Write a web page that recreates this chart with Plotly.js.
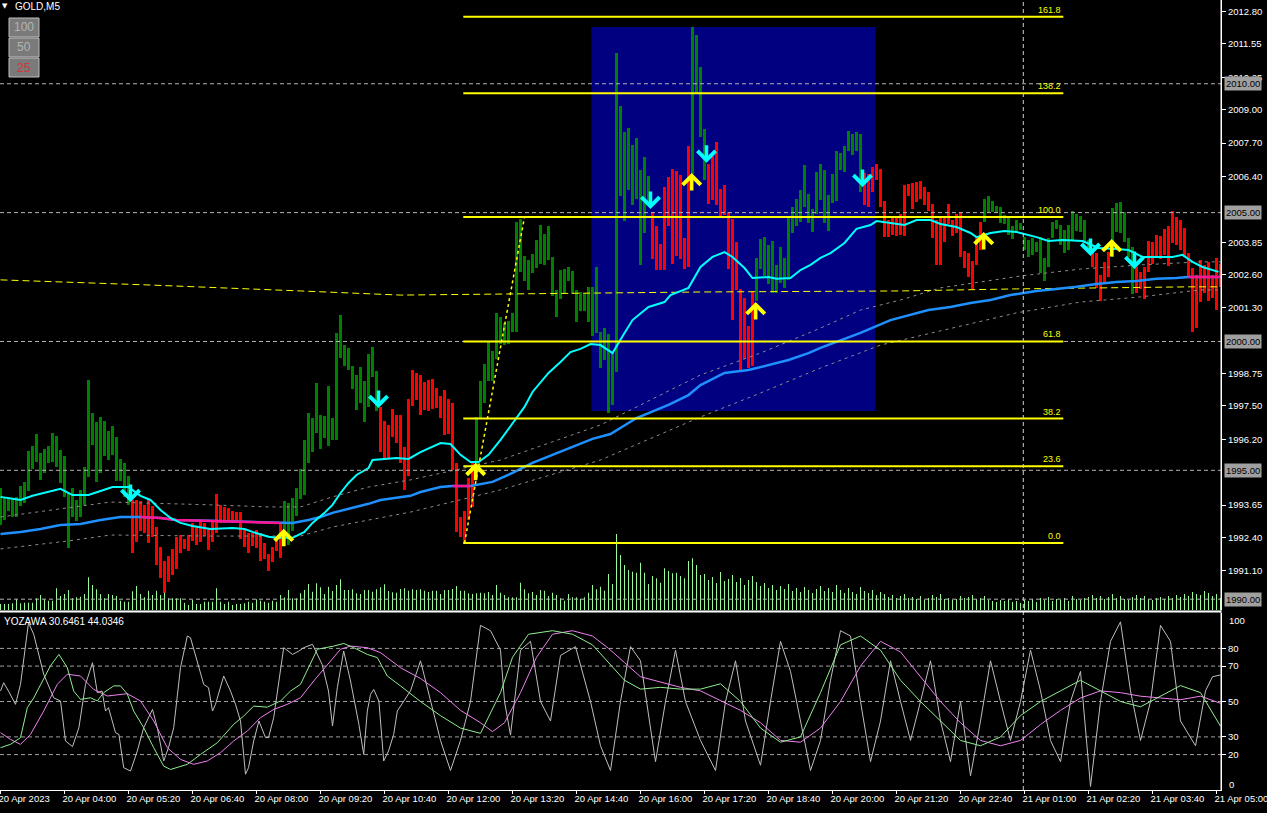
<!DOCTYPE html>
<html><head><meta charset="utf-8">
<script src="https://cdn.plot.ly/plotly-3.0.1.min.js"></script>
<style>html,body{margin:0;padding:0;background:#000;overflow:hidden}#chart{width:1267px;height:813px}</style>
</head><body><div id="chart"></div>
<script>
// ---------- DATA ----------
const timeLabels = ['20 Apr 2023','20 Apr 04:00','20 Apr 05:20','20 Apr 06:40','20 Apr 08:00','20 Apr 09:20','20 Apr 10:40','20 Apr 12:00','20 Apr 13:20','20 Apr 14:40','20 Apr 16:00','20 Apr 17:20','20 Apr 18:40','20 Apr 20:00','20 Apr 21:20','20 Apr 22:40','21 Apr 01:00','21 Apr 02:20','21 Apr 03:40','21 Apr 05:00'];
const labelEvery = 16;

const openP = [
1992.88,1993.07,1993.43,1993.19,1993.19,1993.62,1993.73,1994.20,1995.05,1995.32,
1994.63,1994.90,1995.29,1995.32,1995.13,1994.51,1993.97,1991.99,1993.19,1993.04,
1993.19,1993.66,1994.74,1995.98,1994.55,1994.90,1995.56,1995.40,1995.60,1994.59,
1994.59,1993.97,1993.66,1993.85,1993.85,1993.81,1993.66,1993.85,1993.62,1992.80,
1992.03,1991.48,1991.68,1991.95,1992.42,1992.49,1992.34,1992.49,1992.96,1992.80,
1993.00,1992.96,1992.76,1993.00,1994.08,1993.66,1993.58,1993.54,1993.43,1993.39,
1993.39,1992.72,1992.57,1992.57,1992.69,1992.57,1992.18,1991.75,1992.03,1992.34,
1992.96,1992.07,1992.10,1992.65,1993.23,1993.89,1994.04,1995.29,1995.71,1996.45,
1995.83,1996.25,1995.95,1996.18,1996.18,1999.36,1999.05,1998.89,1998.16,1997.34,
1997.61,1996.88,1997.46,1998.62,1997.30,1997.46,1996.92,1996.76,1997.38,1997.15,
1997.15,1995.91,1997.77,1998.89,1998.78,1998.70,1998.43,1998.51,1998.55,1998.20,
1997.89,1998.12,1997.77,1997.61,1995.29,1993.19,1993.43,1994.70,1995.29,1994.74,
1997.03,1997.61,1998.47,1998.47,1999.32,1999.90,1999.86,1999.90,2000.37,2000.37,
2002.70,2002.35,2002.00,2002.66,2002.85,2003.01,2002.97,2003.16,2001.77,2000.95,
2001.65,2001.88,2002.35,2001.84,2000.76,2001.18,2001.18,2000.76,2000.21,2000.33,
1998.97,1999.28,1997.23,1997.54,1998.82,2005.64,2004.68,2005.88,2005.30,2005.53,
2002.97,2004.21,2005.33,2005.02,2004.48,2003.78,2005.99,2006.38,2006.69,2006.61,
2006.46,2004.02,2007.59,2006.50,2009.64,2007.93,2006.27,2006.89,2007.27,2007.74,
2005.92,2006.07,2005.02,2004.75,2003.86,2002.04,2001.69,2000.60,2001.96,2001.57,
2002.81,2002.54,2002.23,2001.88,2001.88,2002.27,2002.08,2002.39,2004.21,2004.48,
2004.64,2005.22,2004.60,2004.25,2004.95,2005.49,2004.60,2004.29,2005.37,2005.45,
2006.65,2006.58,2007.39,2007.24,2007.39,2005.80,2006.54,2006.50,2006.77,2006.89,
2006.69,2005.45,2004.71,2004.87,2004.79,2004.95,2006.07,2006.11,2006.15,2006.19,
2006.23,2005.99,2005.80,2005.33,2004.71,2004.79,2004.83,2005.33,2004.71,2004.95,
2005.02,2003.51,2003.43,2003.12,2004.09,2004.64,2004.64,2004.99,2005.02,2004.99,
2004.60,2004.56,2004.13,2003.98,2004.29,2004.33,2003.55,2003.28,2003.36,2003.47,
2002.66,2002.35,2002.89,2004.02,2004.37,2003.74,2003.43,2003.55,2003.94,2004.29,
2004.25,2003.82,2003.63,2003.51,2003.43,2002.58,2003.08,2003.47,2003.28,2004.25,
2004.21,2003.86,2003.28,2001.84,2002.89,2002.70,2002.89,2003.90,2003.86,2004.13,
2004.09,2004.36,2004.48,2005.06,2004.83,2004.71,2004.40,2003.43,2002.85,2002.58,
2003.16,2002.97,2003.08,2002.58,2003.24,2003.01];
const closeP = [
1994.32,1993.93,1993.97,1993.89,1993.97,1994.39,1994.55,1995.75,1995.95,1996.41,
1995.67,1995.83,1995.95,1996.45,1996.33,1995.79,1995.56,1994.12,1994.32,1993.85,
1994.24,1995.13,1998.51,1997.23,1996.88,1997.07,1996.92,1996.53,1996.72,1996.29,
1995.44,1995.29,1994.78,1991.79,1992.22,1992.65,1992.57,1992.18,1992.42,1991.33,
1990.82,1990.24,1990.67,1990.94,1991.17,1991.79,1991.95,1991.87,1992.26,1992.10,
1992.22,1992.46,1991.91,1992.22,1992.57,1992.96,1992.96,1993.00,1992.96,1992.96,
1992.34,1992.03,1991.79,1992.07,1991.99,1991.48,1991.56,1991.09,1991.44,1991.87,
1991.60,1993.81,1993.73,1993.93,1994.32,1995.05,1996.18,1997.23,1997.03,1998.39,
1997.15,1997.11,1998.27,1997.03,2000.33,2001.03,1999.86,1999.75,1999.05,1998.70,
1999.01,1998.47,1999.52,1999.79,1998.86,1995.71,1995.44,1995.44,1996.29,1996.06,
1995.29,1994.24,1994.78,1997.50,1997.73,1997.15,1997.34,1997.30,1997.38,1997.42,
1997.03,1996.37,1996.41,1995.01,1992.61,1992.42,1992.14,1993.07,1993.58,1997.07,
1998.47,1999.13,2000.02,1999.63,2001.11,2000.95,2000.72,2000.80,2001.11,2004.64,
2004.75,2003.32,2003.16,2003.40,2003.94,2004.52,2004.17,2004.48,2003.28,2002.00,
2002.77,2002.81,2002.89,2002.74,2002.00,2001.92,2001.88,2002.12,2002.12,2002.89,
2000.37,2000.52,2000.29,1999.55,2011.19,2009.14,2008.13,2008.28,2007.62,2007.89,
2006.65,2007.16,2006.42,2003.20,2002.77,2002.77,2002.77,2004.48,2003.01,2003.32,
2003.20,2002.81,2002.89,2012.20,2011.89,2010.65,2008.24,2005.33,2005.49,2005.30,
2004.83,2004.91,2002.81,2000.83,2002.00,1998.89,1999.32,1998.97,1999.05,2003.24,
2003.98,2004.05,2003.74,2003.90,2002.97,2003.67,2003.24,2004.87,2005.22,2005.53,
2005.88,2006.85,2005.72,2005.14,2006.58,2006.89,2006.65,2005.68,2006.50,2007.39,
2007.31,2007.59,2008.17,2008.05,2008.13,2008.05,2005.30,2005.22,2005.80,2006.27,
2005.22,2004.05,2004.05,2004.13,2004.09,2004.13,2004.09,2005.64,2005.14,2005.41,
2005.53,2005.30,2005.06,2004.02,2002.97,2002.97,2003.86,2004.56,2004.09,2004.21,
2003.28,2002.85,2002.50,2002.04,2002.97,2003.55,2005.53,2005.64,2005.45,2005.26,
2005.22,2004.91,2004.87,2004.48,2004.71,2004.60,2004.05,2003.94,2004.02,2003.86,
2004.05,2003.24,2004.02,2004.64,2004.71,2004.52,2004.33,2004.52,2005.06,2004.95,
2004.87,2004.71,2003.94,2002.89,2002.08,2001.57,2002.23,2002.50,2005.18,2005.37,
2005.41,2005.02,2004.02,2003.67,2001.88,2002.04,2001.65,2002.70,2003.01,2003.24,
2003.20,2003.36,2002.93,2003.82,2003.74,2003.55,2003.28,2002.50,2000.37,2000.52,
2001.53,2001.88,2001.57,2001.69,2001.22,2002.12];

const volume = [
24,24,24,27,43,27,29,29,29,47, 60,43,37,37,87,56,64,80,47,51,
53,64,131,100,83,64,47,64,60,56, 37,33,33,75,96,64,51,77,60,77,
60,69,47,47,47,47,29,20,40,24, 24,33,33,33,87,33,24,33,20,24,
24,27,33,29,43,37,33,29,37,33, 60,50,80,47,47,67,80,104,73,107,
91,64,93,76,100,123,80,80,83,67, 64,80,80,73,83,91,103,76,71,69,
84,87,77,83,80,83,77,72,77,77, 64,80,80,84,96,77,77,67,64,67,
69,67,72,60,100,69,60,51,51,51, 109,83,67,72,60,80,77,56,69,60,
47,37,64,51,51,45,51,69,100,83, 93,77,144,104,304,220,180,160,153,149,
189,149,104,136,127,109,167,156,147,149, 136,127,196,207,180,140,144,120,132,108,
152,116,124,140,112,128,100,120,136,112, 96,108,88,100,80,96,84,104,76,88,
72,92,80,68,84,96,76,88,72,100, 80,68,88,72,64,92,76,68,80,60,
72,64,52,60,48,56,64,48,52,44, 56,40,48,60,52,64,44,48,40,44,
56,48,52,60,44,48,56,40,36,32, 40,36,44,32,36,28,40,36,44,32,
48,40,52,36,44,40,48,36,56,44, 40,48,52,60,48,56,44,52,64,48,
56,44,40,52,60,48,56,44,40,48, 52,44,56,48,60,52,64,56,72,64,
60,76,68,56,64,48];

// fast MA (cyan)
const maFastIdx = [0,5,8,12.5,15,18,22,25,28,32,35,37.5,40,42.5,45,48,52.5,58,61,63,67,69,73,76,78,81,83,85,87,89,92,93,97,99,102,105,110,112.5,115,117.5,119.5,122,125,128,131,133,137,140,142.5,145,147.5,150,153,156,158,162,166,167.5,172,175,178,181,183,186,188,192,194,197.5,200,202.5,205,207.5,211,214,217.5,219,222.5,226,229,232.5,235,239,242.5,244,247.5,251,254,259,262,265.5,270.5,274.5,279,282,285.5,289,293,295.5,298,300.5,304.5];
const maFastVal = [1993.97,1993.85,1994.01,1994.20,1994.28,1994.04,1994.04,1994.20,1994.35,1994.35,1994.01,1993.85,1993.46,1993.15,1992.96,1992.84,1992.72,1992.76,1992.72,1992.61,1992.42,1992.38,1992.38,1992.61,1992.96,1993.35,1993.66,1994.12,1994.51,1994.82,1995.09,1995.40,1995.44,1995.48,1995.44,1995.71,1996.06,1996.02,1995.60,1995.32,1995.32,1995.60,1996.18,1996.84,1997.46,1998.04,1998.78,1999.20,1999.59,1999.71,1999.90,1999.86,1999.55,2000.33,2000.83,2001.34,2001.53,2001.80,2002.08,2002.89,2003.28,2003.47,2003.28,2002.85,2002.46,2002.50,2002.43,2002.46,2002.77,2002.97,2003.24,2003.43,2003.82,2004.37,2004.52,2004.67,2004.60,2004.52,2004.71,2004.71,2004.56,2004.44,2004.21,2004.05,2004.21,2004.29,2004.25,2004.05,2003.90,2003.94,2003.90,2003.63,2003.59,2003.55,2003.28,2003.28,2003.28,2003.36,2003.09,2002.89,2002.70];

// slow MA (blue)
const maSlowIdx = [0,5,10,15,20,25,30,35,40,44,52.5,70,73,77,80,83,87,92,95,100,102.5,105,110,113,117.5,123,128,133,138,143,148,152.5,159,167,172,175,181,187,192,197,202,205,215,222.5,232,237.5,242.5,247.5,252.5,256,259,264,269,274,279,284,289,294,297,305];
const maSlowVal = [1992.53,1992.61,1992.72,1992.88,1992.92,1993.07,1993.19,1993.19,1993.15,1993.07,1993.04,1992.96,1992.96,1993.07,1993.19,1993.35,1993.50,1993.70,1993.85,1993.97,1994.01,1994.16,1994.35,1994.39,1994.39,1994.55,1994.90,1995.29,1995.60,1995.91,1996.22,1996.41,1997.03,1997.54,1997.92,1998.31,1998.78,1998.89,1999.09,1999.28,1999.55,1999.75,2000.33,2000.83,2001.22,2001.34,2001.49,2001.61,2001.80,2001.88,2001.96,2002.04,2002.12,2002.23,2002.31,2002.35,2002.43,2002.46,2002.50,2002.50];
const pinkRanges = [[35,72],[113,118],[296,305]];

// envelope bands (grey dotted)
const bandUpIdx = [0,15,27.5,52.5,67,75,83,92,102.5,125,150,175,190,205,215,225,235,255,270,285,300,305];
const bandUpVal = [1993.19,1993.50,1993.77,1993.66,1993.58,1993.58,1993.97,1994.35,1994.63,1995.40,1996.76,1998.70,1999.55,2000.52,2001.22,2001.61,2002.08,2002.54,2002.81,2002.97,2003.09,2003.09];
const bandLoIdx = [0,17,27.5,52.5,75,83,92,102.5,125,150,175,190,205,220,254,270,285,300,305];
const bandLoVal = [1991.95,1992.26,1992.49,1992.45,1992.45,1992.80,1993.07,1993.38,1994.24,1995.40,1997.07,1998.00,1998.97,1999.86,2001.11,2001.53,2001.73,2002.00,2002.00];

// long MA (yellow dashed)
const maLongIdx = [0,37.5,75,100,150,175,225,254,297.5,305];
const maLongVal = [2002.39,2002.19,2001.96,2001.80,2001.88,2001.92,2001.96,2002.04,2002.12,2002.12];

// zigzag leg + fibonacci
const zigIdx = [116,131];
const zigVal = [1992.18,2004.83];
const fibLabels = ['0.0','23.6','38.2','61.8','100.0','138.2','161.8'];
const fibPrices = [1992.18,1995.16,1997.01,2000.00,2004.83,2009.63,2012.60];
const fibStart = 115.7, fibEnd = 265.7;

// highlighted price lines
const priceLines = [2010.00,2005.00,2000.00,1995.00,1990.00];
const priceTicks = [2012.80,2011.55,2010.25,2009.00,2007.70,2006.40,2003.85,2002.60,2001.30,1998.75,1997.50,1996.20,1993.65,1992.40,1991.10];

// rectangle (bar index / price)
const boxIdx = [147.7,218.7];
const boxPrice = [1997.30,2012.20];
const daySepIdx = 255.7;

// signal arrows
const sellIdx = [32.5,94.5,162.5,176.5,215.5,272.5,283.5];
const sellPrice = [1993.77,1997.42,2005.14,2006.93,2005.99,2003.32,2002.81];
const buyIdx = [70.8,118.8,172.8,188.8,245.8,277.8];
const buyPrice = [1992.73,1995.29,2006.54,2001.53,2004.25,2003.98];

// oscillator (YOZAWA)
const oscLevels = [20,30,50,70,80];
const greyIdx = [0,0.8,2,3.75,5,7,8.3,10.8,13.3,15,16.25,18,19.6,21.25,23,24.2,25.4,26.25,27,28.75,29.6,30.8,32.5,34.2,35.8,38,39.2,40.8,42,43.3,45,46.7,47.5,49.2,50.8,52,53,53.75,55.8,57.5,58.75,60,61.25,62,63.3,64.6,66.25,67,68.3,70.8,73,74.6,75.8,78,80.4,82,83,84.2,85.8,87.5,89.6,90.8,91.7,92.5,93.3,94.6,95.8,97,98.3,99.2,102.5,105,107.5,110,112.5,115,117.5,120,122.5,125,126,127.5,130,132.5,135,137.5,140,143.75,147.5,150,152.5,155,157.5,160,163.75,166.25,168.75,171.25,175,178.75,181.25,183.75,186.25,190,192.5,195,197.5,200,202.5,205,207.5,210,212.5,215,217.5,220,222.5,225,227.5,230,232.5,235,237.5,240,242.5,245,247.5,250,252.5,255,257.5,260,262.5,265,267.5,270,272.5,275,277.5,280,282.5,285,287.5,290,292.5,295,298.75,301.25,303,305];
const greyVal = [55.9,60.6,55.9,48.4,59.7,94.5,88,65.4,52.1,50.3,27.7,24.5,35.2,59.7,71.9,55,55.9,44.6,46.5,32.4,31.4,12.6,10.7,22,35.2,45.5,35.2,16.4,23.9,35.2,69.1,87,86,71.9,59.7,57.8,44.6,48.4,64.4,55.9,48.4,39,8.9,12.6,27.7,39,29.6,29.6,40.9,80.4,76.6,78.5,80.4,82.3,71,55.9,36.2,57.8,78.5,61.6,37.1,20.1,44.6,54,56.8,50.3,16.4,22,31.4,44.6,56,73,50,28,11,28,50,93,90,79,50,31,79,84,50,39,76,81,50,25,11,50,81,73,16,50,79,50,28,11,50,73,39,14,50,84,67,39,11,28,62,90,87,50,16,39,73,50,28,50,73,39,16,50,8,39,73,50,28,50,79,56,28,16,50,67,2,50,84,95,56,28,50,93,84,39,25,56,64,65];
const greenIdx = [0,2.5,5,6.7,8.3,10,12.5,14.6,16.7,18.3,20,22.5,24.2,25.8,28.3,30,31.7,33.3,35.8,38.3,40.8,42.5,46.7,50,54.2,58.3,60.8,63.3,66.7,70,72.5,75,77.5,79.2,83.3,85.8,88.3,91.7,94.2,96.7,100,105,110,115,120,125,128,132,138,143,148,152,156,160,165,170,175,180,185,190,195,200,205,210,215,220,225,230,235,240,245,250,255,260,265,270,275,280,285,290,295,300,305];
const greenVal = [23.9,25.8,29.6,46.5,52,59.7,70.2,76.6,69.1,55.9,51.2,52.1,50.3,55,58.8,58.8,54.2,44.6,35.2,23.9,13.5,11.6,14.5,20.1,26.7,37.1,41.8,47.4,46.8,50.3,55.9,59.7,71.9,79.5,81.3,82.8,80.4,76.6,74.8,64.4,58.8,50,42,35,32,55,75,88,90,88,82,72,62,57,58,57,57,60,50,35,27,30,55,82,87,79,62,50,39,28,25,30,42,50,56,62,56,50,47,53,59,55,36];
const violetIdx = [0,2.5,5,7.5,10.8,14.2,16.7,20,23.3,26.7,31.7,35,38.3,41.7,45,48.3,51.7,55,58.3,61.7,65,68.3,71.7,75,78.3,81.7,85,87.5,91.7,95,98.3,100,105,110,115,120,123,126,130,134,138,143,148,152,156,160,170,175,185,190,195,200,205,210,215,220,225,230,235,240,245,250,255,260,265,270,275,280,285,290,295,300,305];
const violetVal = [32.4,28.6,25.8,31.4,44.6,59.7,65.4,64.4,56.8,53.1,54.4,50.3,39,23.9,17.3,14.5,16.4,21.1,27.7,33.3,40.9,45.5,48.4,52.1,61.6,71,79.5,81.3,80.4,77.6,71.9,69.1,63,55,45,38,33,38,55,75,88,90,87,80,72,64,58,56,45,38,28,27,35,50,70,84,78,64,50,38,28,25,28,37,45,52,56,55,53,52,51,53,49];

// ---------- BUILD ----------
const idx = openP.map((_, i) => i);
const barBase = openP.map((o, i) => Math.min(o, closeP[i]));
const barLen = openP.map((o, i) => Math.max(Math.abs(closeP[i] - o), 0.04));
const barCol = openP.map((o, i) => closeP[i] >= o ? '#008000' : '#FF0000');

const volX = [], volY = [];
volume.forEach((v, i) => { volX.push(i, i, null); volY.push(0, v, null); });

const pinkX = [], pinkY = [];
pinkRanges.forEach(r => {
  maSlowIdx.forEach((x, k) => { if (x >= r[0] && x <= r[1]) { pinkX.push(x); pinkY.push(maSlowVal[k]); } });
  pinkX.push(null); pinkY.push(null);
});

const FONT = 'Liberation Sans, Arial, sans-serif';
const traces = [
  {type:'scatter', x:volX, y:volY, xaxis:'x', yaxis:'y3', mode:'lines', line:{color:'#98FB98', width:1}, hoverinfo:'skip'},
  {type:'scatter', x:bandUpIdx, y:bandUpVal, mode:'lines', line:{color:'#8C8C8C', width:1, dash:'3px,4px'}, hoverinfo:'skip'},
  {type:'scatter', x:bandLoIdx, y:bandLoVal, mode:'lines', line:{color:'#8C8C8C', width:1, dash:'3px,4px'}, hoverinfo:'skip'},
  {type:'scatter', x:maLongIdx, y:maLongVal, mode:'lines', line:{color:'#FFFF00', width:1, dash:'7px,4px'}, hoverinfo:'skip'},
  {type:'bar', x:idx, base:barBase, y:barLen, width:0.75, marker:{color:barCol, line:{width:0}}, hoverinfo:'skip'},
  {type:'scatter', x:maSlowIdx, y:maSlowVal, mode:'lines', line:{color:'#1E90FF', width:2.5}, hoverinfo:'skip'},
  {type:'scatter', x:pinkX, y:pinkY, mode:'lines', line:{color:'#FF1493', width:2.5}, hoverinfo:'skip', connectgaps:false},
  {type:'scatter', x:maFastIdx, y:maFastVal, mode:'lines', line:{color:'#00FFFF', width:2}, hoverinfo:'skip'},
  {type:'scatter', x:zigIdx, y:zigVal, mode:'lines', line:{color:'#FFFF00', width:1.5, dash:'3px,3px'}, hoverinfo:'skip'},
  {type:'scatter', x:greyIdx, y:greyVal, yaxis:'y2', mode:'lines', line:{color:'#BEBEBE', width:1}, hoverinfo:'skip'},
  {type:'scatter', x:violetIdx, y:violetVal, yaxis:'y2', mode:'lines', line:{color:'#EE82EE', width:1}, hoverinfo:'skip'},
  {type:'scatter', x:greenIdx, y:greenVal, yaxis:'y2', mode:'lines', line:{color:'#90EE90', width:1}, hoverinfo:'skip'}
];

const PW = 1221, PH = 790;
const shapes = [
  {type:'rect', xref:'x', yref:'y', x0:boxIdx[0], x1:boxIdx[1], y0:boxPrice[0], y1:boxPrice[1], fillcolor:'#000080', line:{width:0}, layer:'below'}
];
priceLines.forEach(p => shapes.push({type:'line', xref:'paper', yref:'y', x0:0, x1:1, y0:p, y1:p, line:{color:'#B4B4B4', width:1, dash:'4px,3px'}, layer:'above'}));
fibPrices.forEach(p => shapes.push({type:'line', xref:'x', yref:'y', x0:fibStart, x1:fibEnd, y0:p, y1:p, line:{color:'#FFFF00', width:2}, layer:'above'}));
oscLevels.forEach(v => shapes.push({type:'line', xref:'paper', yref:'y2', x0:0, x1:1, y0:v, y1:v, line:{color:'#A0A0A0', width:1, dash:'4px,3px'}, layer:'below'}));
shapes.push({type:'line', xref:'x', yref:'paper', x0:daySepIdx, x1:daySepIdx, y0:0, y1:1, line:{color:'#D0D0D0', width:1, dash:'4px,3px'}, layer:'above'});
shapes.push({type:'line', xref:'paper', yref:'paper', x0:0, x1:1, y0:1-611.5/PH, y1:1-611.5/PH, line:{color:'#FFFFFF', width:2}});
shapes.push({type:'line', xref:'paper', yref:'paper', x0:1, x1:1, y0:0, y1:1, line:{color:'#FFFFFF', width:1}});
[[18,37],[38,57],[58,77]].forEach(b => shapes.push({type:'rect', xref:'paper', yref:'paper', x0:9/PW, x1:39/PW, y0:1-b[1]/PH, y1:1-b[0]/PH, fillcolor:'#7A7A7A', line:{color:'#BEBEBE', width:1}}));

const annotations = [];
sellIdx.forEach((x, k) => annotations.push({x:x, y:sellPrice[k], xref:'x', yref:'y', text:'', showarrow:true, arrowhead:4, arrowsize:1.0, arrowwidth:3.5, arrowcolor:'#00FFFF', ax:0, ay:-19, standoff:0}));
buyIdx.forEach((x, k) => annotations.push({x:x, y:buyPrice[k], xref:'x', yref:'y', text:'', showarrow:true, arrowhead:4, arrowsize:1.0, arrowwidth:3.5, arrowcolor:'#FFFF00', ax:0, ay:19, standoff:0}));
fibLabels.forEach((t, k) => annotations.push({x:fibEnd, y:fibPrices[k], xref:'x', yref:'y', text:t, showarrow:false, xanchor:'right', yanchor:'bottom', font:{family:FONT, size:9, color:'#FFFF00'}}));
priceLines.forEach(p => annotations.push({x:1, y:p, xref:'paper', yref:'y', text:p.toFixed(2), showarrow:false, xanchor:'left', yanchor:'middle', xshift:3, bgcolor:'#A0A0A0', borderpad:1, font:{family:FONT, size:9.5, color:'#000000'}}));
annotations.push({x:1, y:1-620/PH, xref:'paper', yref:'paper', text:'100', showarrow:false, xanchor:'left', yanchor:'middle', xshift:6, font:{family:FONT, size:9.5, color:'#FFFFFF'}});
annotations.push({x:1, y:1-784/PH, xref:'paper', yref:'paper', text:'0', showarrow:false, xanchor:'left', yanchor:'middle', xshift:6, font:{family:FONT, size:9.5, color:'#FFFFFF'}});
annotations.push({x:5/PW, y:1-6/PH, xref:'paper', yref:'paper', text:'▼', showarrow:false, xanchor:'center', yanchor:'middle', font:{family:'DejaVu Sans', size:7, color:'#FFFFFF'}});
annotations.push({x:13/PW, y:1-6/PH, xref:'paper', yref:'paper', text:'GOLD,M5', showarrow:false, xanchor:'left', yanchor:'middle', font:{family:FONT, size:10, color:'#FFFFFF'}});
annotations.push({x:2/PW, y:1-621/PH, xref:'paper', yref:'paper', text:'YOZAWA 30.6461 44.0346', showarrow:false, xanchor:'left', yanchor:'middle', font:{family:FONT, size:10, color:'#FFFFFF'}});
[['100',27.5,'#B4B4B4'],['50',47.5,'#B4B4B4'],['25',67.5,'#D03838']].forEach(b => annotations.push({x:24/PW, y:1-b[1]/PH, xref:'paper', yref:'paper', text:b[0], showarrow:false, xanchor:'center', yanchor:'middle', font:{family:FONT, size:12, color:b[2]}}));

const tickIdx = timeLabels.map((_, k) => k * labelEvery);

const layout = {
  width:1267, height:813,
  margin:{l:0, r:46, t:0, b:23, pad:0},
  paper_bgcolor:'#000000', plot_bgcolor:'#000000',
  showlegend:false, bargap:0, hovermode:false,
  font:{family:FONT, size:9.5, color:'#FFFFFF'},
  xaxis:{range:[-0.125, 305.125], anchor:'y2', tickvals:tickIdx, ticktext:timeLabels, ticks:'outside', ticklen:3, tickcolor:'#FFFFFF',
    ticklabelposition:'outside right', ticklabelshift:-3, ticklabeloverflow:'allow', showgrid:false, zeroline:false, showline:true, linecolor:'#FFFFFF', linewidth:1,
    tickfont:{family:FONT, size:9.5, color:'#FFFFFF'}},
  yaxis:{domain:[1-610/PH, 1], range:[1989.58, 2013.25], side:'right', anchor:'x', tickvals:priceTicks, ticktext:priceTicks.map(v => v.toFixed(2)),
    ticks:'outside', ticklen:4, tickcolor:'#FFFFFF', showgrid:false, zeroline:false, showline:true, linecolor:'#FFFFFF',
    tickfont:{family:FONT, size:9.5, color:'#FFFFFF'}},
  yaxis2:{domain:[0, 1-613/PH], range:[0, 100], side:'right', anchor:'x', tickvals:oscLevels, ticktext:oscLevels.map(String),
    ticks:'outside', ticklen:4, tickcolor:'#FFFFFF', showgrid:false, zeroline:false, showline:true, linecolor:'#FFFFFF',
    tickfont:{family:FONT, size:9.5, color:'#FFFFFF'}},
  yaxis3:{overlaying:'y', range:[0, 2440], visible:false, fixedrange:true},
  shapes:shapes, annotations:annotations
};

Plotly.newPlot('chart', traces, layout, {staticPlot:true, displayModeBar:false});
</script>
</body></html>
